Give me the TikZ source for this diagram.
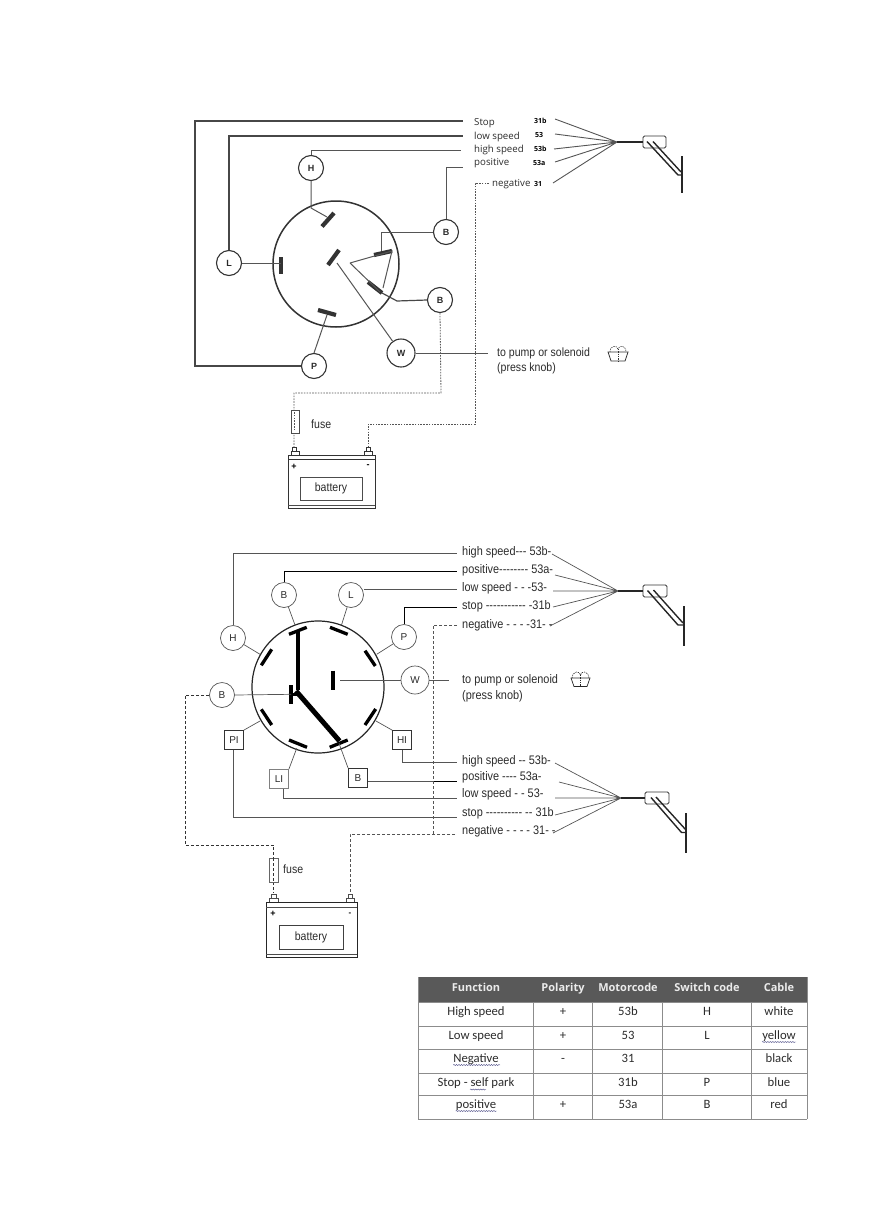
\documentclass[tikz,border=0pt]{standalone}
\usepackage{fontspec}
\setmainfont{Liberation Sans}
\newfontfamily\narrowf[FakeStretch=0.88]{Liberation Sans}
\newfontfamily\openf{Open Sans}
\newfontfamily\tablef{Carlito}
\usetikzlibrary{decorations.pathmorphing}
\definecolor{wiregray}{HTML}{555555}
\definecolor{headgray}{HTML}{595959}
\definecolor{gridgray}{HTML}{8C8C8C}
\definecolor{inktext}{HTML}{2B2B2B}
\tikzset{
 wireA/.style={draw=wiregray,line width=1pt},
 wireD/.style={draw=black!72,line width=1.2pt},
 wireB/.style={draw=wiregray,line width=.7pt},
 wireK/.style={draw=black,line width=1pt},
 dashA/.style={draw=wiregray,line width=.8pt,dash pattern=on 1.6pt off 1.2pt},
 dashB/.style={draw=wiregray,line width=.7pt,dash pattern=on 3pt off 2pt},
 dashK/.style={draw=black!80,line width=.8pt,dash pattern=on 3pt off 2pt},
 termA/.style={draw=black!80,line width=4.2pt},
 termB/.style={draw=black,line width=3.3pt},
 ringA/.style={circle,draw=black!80,line width=1.1pt,fill=white,minimum size=25pt,inner sep=0pt,font=\bfseries\fontsize{9}{10}\selectfont,text=inktext},
 ringB/.style={circle,draw=wiregray,line width=.7pt,fill=white,minimum size=25pt,inner sep=0pt,font=\fontsize{10}{11}\selectfont,text=inktext},
 squareB/.style={rectangle,draw=black!80,line width=.8pt,fill=white,minimum size=19pt,inner sep=0pt,font=\fontsize{10}{11}\selectfont,text=inktext},
 labA/.style={anchor=west,inner sep=0pt,text=inktext,font=\openf\fontsize{9.7}{11}\selectfont},
 codeA/.style={anchor=west,inner sep=0pt,text=black,font=\openf\bfseries\fontsize{7}{8}\selectfont},
 labB/.style={anchor=west,inner sep=0pt,text=inktext,font=\narrowf\fontsize{12.4}{13}\selectfont},
 labC/.style={anchor=west,inner sep=0pt,text=inktext,font=\narrowf\fontsize{12}{13}\selectfont},
 head/.style={inner sep=0pt,text height=8pt,text depth=2pt,text=white!92!black,font=\openf\bfseries\fontsize{11}{12}\selectfont},
 cell/.style={inner sep=0pt,text height=8.5pt,text depth=2.5pt,text=inktext,font=\tablef\fontsize{12.7}{14}\selectfont},
 squig/.style={draw=black!45!blue!40!gray,line width=.45pt,decorate,decoration={snake,amplitude=.5pt,segment length=2.5pt}},
 blade/.style={draw=black!85,line width=2.4pt},
 hub/.style={draw=black!85,line width=2.2pt},
 mirror/.style={draw=black!80,line width=.8pt,rounded corners=1.5pt,fill=white},
 arm/.style={draw=black!85,line width=1.4pt},
}
\begin{document}
\begin{tikzpicture}[x=1pt,y=-1pt]
\useasboundingbox (0,0) rectangle (874,1226);
%%%% ---------- top diagram ----------
\draw[line width=1.5pt,draw=black!80] (336,264) circle (63);
\node[ringA] (H1) at (311,168) {H};
\node[ringA] (L1) at (229,263) {L};
\node[ringA] (B1) at (446,232) {B};
\node[ringA] (B2) at (440,300) {B};
\node[ringA] (P1) at (314,366) {P};
\node[ringA,minimum size=28pt] (W1) at (401,353) {W};
% terminals
\draw[termA] (322,226.5) -- (334,213);
\draw[termA] (281,257) -- (281,274);
\draw[termA] (328,265) -- (339,250);
\draw[termA] (374,255) -- (392,251);
\draw[termA] (368,282) -- (382,293);
\draw[termA] (318,310) -- (336,315);
% wires to labels
\coordinate (s1) at (463,121); \coordinate (s2) at (463,136);
\coordinate (s3) at (461,150); \coordinate (s4) at (463,167);
\coordinate (s1c) at (195,121);
\draw[wireD] (P1.west) -- (195,366) -- (s1c) -- (s1);
\draw[wireD] (L1.north) -- (L1.north |- s2) -- (s2);
\draw[wireA] (H1.north) -- (H1.north |- s3) -- (s3);
\draw[wireA] (B1.north) -- (B1.north |- s4) -- (s4);
% internal wires
\draw[wireA] (H1.south) -- (311,208) -- (327,217);
\draw[wireA] (L1.east) -- (281,263);
\draw[wireA] (B1.west) -- (381,232) -- (381,251);
\draw[wireD] (B2.west) -- (397,301) -- (382,293);
\draw[wireA] (P1.north) -- (327,315);
\draw[wireA] (W1) -- (337,263);
\coordinate (tip) at (350,263);
\draw[wireA] (tip) -- (392,251) -- (383,288) (tip) -- (380,292);
\coordinate (pumpend) at (488,353);
\draw[wireA] (W1.east) -- (pumpend);
\node[labC] (pump1) at (497,353) {to pump or solenoid};
\node[labC] (pump1b) at (497,368) {(press knob)};
% pump icon 1
\draw[line width=.8pt,draw=black!80] (608,352) -- (628,352) -- (625,361) -- (611,361) -- cycle;
\draw[line width=.6pt,draw=black!80,dash pattern=on 1.3pt off 1pt] (610,352) .. controls (610,345) and (617,345) .. (618,349) .. controls (619,345) and (626,345) .. (626,352);
\draw[line width=.6pt,draw=black!80,dash pattern=on 1.3pt off 1pt] (618,349) -- (618,361);
% labels
\node[labA] (la1) at (474,123) {Stop};
\node[labA] (la2) at (474,136.5) {low speed};
\node[labA] (la3) at (474,150) {high speed};
\node[labA] (la4) at (474,163.5) {positive};
\node[labA] (la5) at (492,184) {negative};
\node[codeA] (ca1) at (534,121) {31b};
\node[codeA] (ca2) at (535,135) {53};
\node[codeA] (ca3) at (534,149) {53b};
\node[codeA] (ca4) at (533,163) {53a};
\node[codeA] (ca5) at (534,184) {31};
% fan 1
\coordinate (f1) at (617,142);
\coordinate (f1a) at (555,119); \coordinate (f1b) at (555,134); \coordinate (f1c) at (554,149);
\coordinate (f1d) at (555,162); \coordinate (f1e) at (553,183);
\draw[wireB,line width=.9pt] (f1a) -- (f1) (f1b) -- (f1) (f1c) -- (f1) (f1d) -- (f1) (f1e) -- (f1);
\draw[mirror] (643,136) rectangle (666,148);
\draw[hub] (f1) -- (643,142);
\draw[arm] (647,141.5) -- (678,175) -- (682,175) (653,141.5) -- (681,172);
\draw[blade] (682,156) -- (682,193);
% dashed
\coordinate (n2) at (475,424);
\coordinate (fuseA) at (294,393);
\draw[dashA] (489,183) -- (475,183) -- (n2) -- (368,424) -- (368,448);
\draw[dashA] (B2.south) -- (441,393) -- (fuseA) -- (294,448);
% fuse + battery
\node[draw=black!70,fill=white,line width=.7pt,minimum width=8pt,minimum height=23pt,inner sep=0pt] (fuse1) at (295,421.5) {};
\draw[dashA] (294,412) -- (294,431);
\node[labC] (fl1) at (311,424) {fuse};
\draw[line width=.9pt,draw=black!80,fill=white] (291,455) rectangle (299,451) (292,451) rectangle (296,447.5);
\draw[line width=.9pt,draw=black!80,fill=white] (364,455) rectangle (372,451) (366,451) rectangle (370,447.5);
\draw[line width=.9pt,draw=black!80] (288,455) rectangle (375,508);
\draw[line width=.9pt,draw=black!80] (288,459) -- (375,459);
\draw[line width=1.4pt,draw=black!70] (288,505.5) -- (375,505.5);
\node[draw=black!70,line width=.8pt,minimum width=62pt,minimum height=23pt,inner sep=0pt,font=\narrowf\fontsize{12}{13}\selectfont,text=inktext] (bat1) at (331,488.5) {battery};
\node[inner sep=0pt,font=\bfseries\fontsize{9}{10}\selectfont] (p1) at (294,467) {+};
\node[inner sep=0pt,font=\bfseries\fontsize{9}{10}\selectfont] (m1) at (368,466.5) {-};
%%%% ---------- middle diagram ----------
\draw[line width=1.2pt,draw=black!85] (318,687) circle (66);
\node[ringB] (H2) at (233,638) {H};
\node[ringB] (B3) at (284,595) {B};
\node[ringB] (L2) at (351,595) {L};
\node[ringB] (P2) at (404,637) {P};
\node[ringB,minimum size=28pt] (W2) at (415,680) {W};
\node[ringB] (B4) at (222,695) {B};
\node[squareB] (PI) at (234,740) {PI};
\node[squareB,draw=black!50] (LI) at (279,779) {LI};
\node[squareB] (B5) at (358,778) {B};
\node[squareB] (HI) at (402,740) {HI};
% terminals
\draw[termB] (289,634.3) -- (306.7,627.3);
\draw[termB] (330,627.3) -- (347.7,634.3);
\draw[termB] (365,650.7) -- (375.3,666);
\draw[termB] (261.3,665.3) -- (271.7,649.3);
\draw[termB] (291,685) -- (291,704);
\draw[termB] (333,670.7) -- (333,690);
\draw[termB] (261.3,709.3) -- (271.7,725);
\draw[termB] (365,725) -- (375.7,709);
\draw[termB] (289,740) -- (307,747.3);
\draw[termB] (329.7,747.3) -- (347.7,740);
% thick wires
\draw[draw=black,line width=4pt] (297.7,630) -- (297.7,690);
\draw[draw=black,line width=5pt] (296,691) -- (339.5,741);
\draw[draw=black,line width=3pt] (291,694.3) -- (298,694.3);
% thin wires
\coordinate (w1) at (457,553); \coordinate (w2) at (457,571); \coordinate (w3) at (457,589);
\coordinate (w4) at (457,607); \coordinate (w5) at (457,762); \coordinate (w6) at (457,781);
\coordinate (w7) at (457,798); \coordinate (w8) at (457,817);
\draw[wireB] (H2.north) -- (H2.north |- w1) -- (w1);
\draw[wireK] (B3.north) -- (B3.north |- w2) -- (w2);
\draw[wireB] (L2.east |- w3) -- (w3);
\draw[wireK] (P2.north) -- (P2.north |- w4) -- (w4);
\draw[wireB] (B3) -- (295,625);
\draw[wireB] (L2) -- (341.5,625);
\draw[wireB] (H2) -- (260,654.3);
\draw[wireB] (P2) -- (376.7,654.3);
\draw[wireB] (B4.east) -- (291,694.3);
\draw[wireB] (W2.west) -- (340,680);
\coordinate (pump2) at (449,680);
\draw[wireB] (W2.east) -- (pump2);
\draw[wireB] (PI.north east) -- (260,721);
\draw[wireB] (LI.north east) -- (296.7,748.3);
\draw[wireB] (B5.north west) -- (339,743.3);
\draw[wireB] (HI.north west) -- (376,721);
\draw[wireB] (HI.south) -- (HI.south |- w5) -- (w5);
\draw[wireB] (B5.east |- w6) -- (433,781);
\draw[wireK] (433,781) -- (w6);
\draw[wireB] (283,788.5) -- (283,798) -- (w7);
\draw[wireB] (233,749.5) -- (233,817) -- (w8);
% dashed
\coordinate (n3) at (457,625);
\coordinate (n4) at (433,834);
\draw[dashB] (n3) -- (433,625) -- (n4);
\draw[dashB] (455,834) -- (n4) -- (350,834) -- (350,893);
\draw[dashK] (B4.west) -- (185,695) -- (185,845) -- (273.5,845) -- (273.5,893);
% pump label
\node[labB] (pump2t) at (462,680) {to pump or solenoid};
\node[labB] (pump2b) at (462,696) {(press knob)};
\draw[line width=.7pt,draw=black!85] (571,678) -- (590,678) -- (587,686.5) -- (574,686.5) -- cycle;
\draw[line width=.6pt,draw=black!85,dash pattern=on 1.3pt off 1pt] (572,678) .. controls (573,670) and (580,671) .. (580.5,675) .. controls (581,671) and (588,670) .. (589,678);
\draw[line width=.6pt,draw=black!85,dash pattern=on 1.3pt off 1pt] (580.5,675) -- (580.5,686);
% labels
\node[labB] (lb1) at (462,552) {high speed--- 53b-};
\node[labB] (lb2) at (462,570) {positive-------- 53a-};
\node[labB] (lb3) at (462,588) {low speed - - -53-};
\node[labB] (lb4) at (462,606) {stop ----------- -31b};
\node[labB] (lb5) at (462,625) {negative - - - -31- -};
\node[labB] (lb6) at (462,761) {high speed -- 53b-};
\node[labB] (lb7) at (462,777) {positive ---- 53a-};
\node[labB] (lb8) at (462,794) {low speed - - 53-};
\node[labB] (lb9) at (462,813) {stop ---------- -- 31b};
\node[labB] (lb10) at (462,831) {negative - - - - 31- -};
% fan 2
\coordinate (f2) at (618,591);
\draw[wireB] (552,554) -- (f2) (555,575) -- (f2) (553,591) -- (f2) (553,607) -- (f2) (550,626) -- (f2);
\draw[mirror] (643,585) rectangle (667,597);
\draw[hub] (f2) -- (643,591);
\draw[arm] (647.5,590.5) -- (678,625) -- (684,625) (653.5,590) -- (683,623);
\draw[blade] (684,606) -- (684,646);
% fan 3
\coordinate (f3) at (621,798);
\draw[wireB] (555,763) -- (f3) (559,782) -- (f3) (555,798) -- (f3) (555,815) -- (f3) (553,833) -- (f3);
\draw[mirror] (645,792) rectangle (669,804);
\draw[hub] (f3) -- (645,798);
\draw[arm] (651,797.5) -- (681.5,832.5) -- (686,832.5) (656,797) -- (686,830);
\draw[blade] (686,813) -- (686,853);
% fuse + battery 2
\node[draw=black!60,fill=white,line width=.7pt,minimum width=9pt,minimum height=24pt,inner sep=0pt] (fuse2) at (273.5,870) {};
\draw[dashK] (273.5,858) -- (273.5,882);
\node[labC] (fl2) at (283,869) {fuse};
\draw[line width=.7pt,draw=black!70,fill=white] (269,902) rectangle (278,898) (271,898) rectangle (276,894);
\draw[line width=.7pt,draw=black!70,fill=white] (346,902) rectangle (354,898) (348,898) rectangle (352,894);
\draw[line width=.8pt,draw=black!85] (266,902) rectangle (357,957);
\draw[line width=.7pt,draw=black!70] (266,907) -- (357,907);
\draw[line width=.7pt,draw=black!70] (266,954) -- (357,954);
\node[draw=black!75,line width=.7pt,minimum width=64pt,minimum height=24pt,inner sep=0pt,font=\narrowf\fontsize{12}{13}\selectfont,text=inktext] (bat2) at (311,937) {battery};
\node[inner sep=0pt,font=\bfseries\fontsize{9}{10}\selectfont] (p2) at (273,913.5) {+};
\node[inner sep=0pt,font=\bfseries\fontsize{8}{9}\selectfont] (m2) at (350,914) {-};
%%%% ---------- table ----------
\fill[headgray] (418,977) rectangle (807,1002);
\foreach \yy in {1002,1026,1049,1073,1095,1119}
  \draw[gridgray,line width=.9pt] (418,\yy) -- (807,\yy);
\foreach \xx in {533,592,662,751}
  \draw[gridgray,line width=.9pt] (\xx,1002) -- (\xx,1119);
\draw[gridgray,line width=.9pt] (418,977) -- (418,1119) (807,977) -- (807,1119);
\node[head] (h1) at (476,988) {Function};
\node[head] (h2) at (563,988) {Polarity};
\node[head] (h3) at (628,988) {Motorcode};
\node[head] (h4) at (707,988) {Switch code};
\node[head] (h5) at (779,988) {Cable};
\node[cell] (a1) at (476,1012) {High speed};
\node[cell] (a2) at (563,1012) {+};
\node[cell] (a3) at (628,1012) {53b};
\node[cell] (a4) at (707,1012) {H};
\node[cell] (a5) at (779,1012) {white};
\node[cell] (b1) at (476,1036) {Low speed};
\node[cell] (b2) at (563,1036) {+};
\node[cell] (b3) at (628,1036) {53};
\node[cell] (b4) at (707,1036) {L};
\node[cell] (b5) at (779,1036) {yellow};
\node[cell] (c1) at (476,1059) {Negative};
\node[cell] (c2) at (563,1059) {-};
\node[cell] (c3) at (628,1059) {31};
\node[cell] (c5) at (779,1059) {black};
\node[cell] (d1) at (476,1083) {Stop - self park};
\node[cell] (d3) at (628,1083) {31b};
\node[cell] (d4) at (707,1083) {P};
\node[cell] (d5) at (779,1083) {blue};
\node[cell] (e1) at (476,1105) {positive};
\node[cell] (e2) at (563,1105) {+};
\node[cell] (e3) at (628,1105) {53a};
\node[cell] (e4) at (707,1105) {B};
\node[cell] (e5) at (779,1105) {red};
\draw[squig] (c1.base west) ++(0,3) -- ++(47,0);
\draw[squig] (b5.base west) ++(0,3) -- ++(34,0);
\draw[squig] (e1.base west) ++(0,3) -- ++(41,0);
\draw[squig] (470,1089.5) -- (486,1089.5);
\end{tikzpicture}
\end{document}
